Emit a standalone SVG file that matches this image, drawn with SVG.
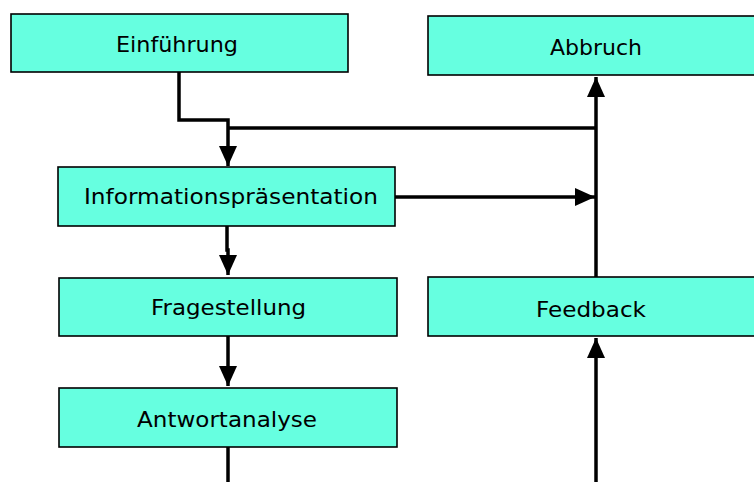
<svg xmlns="http://www.w3.org/2000/svg" width="754" height="482" viewBox="0 0 754 482">
  <style>
    .box { fill: #66ffe0; stroke: #000; stroke-width: 1.6; }
    .lbl { font-family: "DejaVu Sans", sans-serif; font-size: 22px; fill: #000; }
    .wire { fill: none; stroke: #000; stroke-width: 3.5; }
  </style>
  <defs>
    <marker id="arrow" viewBox="0 0 20 18" refX="20" refY="9" markerWidth="20" markerHeight="18" markerUnits="userSpaceOnUse" orient="auto">
      <path d="M0,0 L20,9 L0,18 Z" fill="#000"/>
    </marker>
  </defs>

  <g id="connectors">
    <!-- Einführung to Informationspräsentation -->
    <path class="wire" d="M179,72 V120 H228 V166" marker-end="url(#arrow)"/>
    <!-- branch to the Abbruch trunk -->
    <path class="wire" d="M228,128 H596"/>
    <!-- trunk up to Abbruch -->
    <path class="wire" d="M596,277 V77" marker-end="url(#arrow)"/>
    <!-- Informationspräsentation to trunk -->
    <path class="wire" d="M395,197 H595" marker-end="url(#arrow)"/>
    <!-- Informationspräsentation to Fragestellung -->
    <path class="wire" d="M227,226 V250 H228 V275" marker-end="url(#arrow)"/>
    <!-- Fragestellung to Antwortanalyse -->
    <path class="wire" d="M228,336 V386" marker-end="url(#arrow)"/>
    <!-- Antwortanalyse onwards -->
    <path class="wire" d="M228,447 V482"/>
    <!-- up to Feedback -->
    <path class="wire" d="M596,482 V338" marker-end="url(#arrow)"/>
  </g>

  <g id="einfuehrung">
    <rect class="box" x="11" y="14" width="337" height="58"/>
    <text class="lbl" x="116" y="52" textLength="122" lengthAdjust="spacingAndGlyphs">Einführung</text>
  </g>
  <g id="abbruch">
    <rect class="box" x="428" y="16" width="338" height="59"/>
    <text class="lbl" x="550" y="55" textLength="92" lengthAdjust="spacingAndGlyphs">Abbruch</text>
  </g>
  <g id="informationspraesentation">
    <rect class="box" x="58" y="167" width="337" height="59"/>
    <text class="lbl" x="84" y="204" textLength="294" lengthAdjust="spacingAndGlyphs">Informationspräsentation</text>
  </g>
  <g id="fragestellung">
    <rect class="box" x="59" y="278" width="338" height="58"/>
    <text class="lbl" x="151" y="315" textLength="155" lengthAdjust="spacingAndGlyphs">Fragestellung</text>
  </g>
  <g id="feedback">
    <rect class="box" x="428" y="277" width="338" height="59"/>
    <text class="lbl" x="536" y="317" textLength="110" lengthAdjust="spacingAndGlyphs">Feedback</text>
  </g>
  <g id="antwortanalyse">
    <rect class="box" x="59" y="388" width="338" height="59"/>
    <text class="lbl" x="137" y="427" textLength="180" lengthAdjust="spacingAndGlyphs">Antwortanalyse</text>
  </g>
</svg>
